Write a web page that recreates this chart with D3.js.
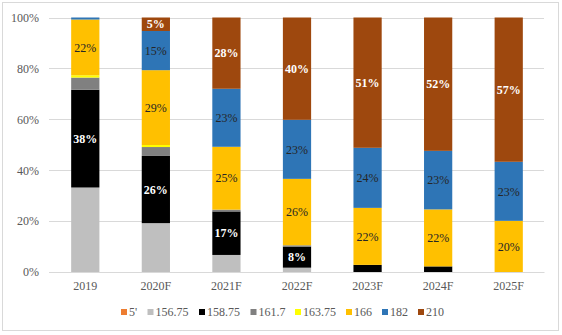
<!DOCTYPE html>
<html><head><meta charset="utf-8">
<script src="https://cdn.jsdelivr.net/npm/d3@7"></script>
<style>body{margin:0;background:#fff}svg{display:block}
svg text{font-family:"Liberation Serif","Times New Roman",serif;}</style>
</head><body>
<script>
const years = ["2019","2020F","2021F","2022F","2023F","2024F","2025F"];
const seriesNames = ["5'","156.75","158.75","161.7","163.75","166","182","210"];
const s5    = [0,0,0,0,0,0,0];
const s156  = [33.2,19.2,6.7,1.7,0,0,0];
const s158  = [38.4,26.4,17.1,8.3,2.8,2.2,0];
const s161  = [4.8,3.5,0.7,0.5,0,0,0];
const s163  = [0.9,0.8,0,0,0,0,0];
const s166  = [21.9,29.4,24.7,26.1,22.4,22.4,20.1];
const s182  = [0.8,15.4,22.8,23.2,23.6,23.0,23.2];
const s210  = [0,5.3,28.0,40.2,51.2,52.4,56.7];
const yTicks = [0,20,40,60,80,100];
const colors = ["#ED7D31","#BFBFBF","#000000","#808080","#FFFF00","#FFC000","#2E75B6","#9E480E"];
const labelled = {"158.75":"white","166":"dark","182":"dark","210":"white"};

const allSeries = [s5,s156,s158,s161,s163,s166,s182,s210];
const rows = years.map((y,i)=>{const r={year:y}; seriesNames.forEach((n,k)=>r[n]=allSeries[k][i]); return r;});

const W=562,H=335;
const svg=d3.select("body").append("svg").attr("width",W).attr("height",H);
svg.append("rect").attr("x",2.5).attr("y",2.5).attr("width",556).attr("height",328)
  .attr("fill","#fff").attr("stroke","#d9d9d9");

const x=d3.scaleBand().domain(years).range([50,544]).paddingInner(0.6).paddingOuter(0.3);
const y=d3.scaleLinear().domain([0,100]).range([272,17.5]);

const grid=svg.append("g");
grid.selectAll("line").data(yTicks).join("line")
  .attr("x1",49).attr("x2",544).attr("y1",d=>Math.round(y(d))+0.5).attr("y2",d=>Math.round(y(d))+0.5)
  .attr("stroke","#d9d9d9");

const yAxis=svg.append("g").attr("transform","translate(49,0)")
  .call(d3.axisLeft(y).tickValues(yTicks).tickFormat(d=>d+"%").tickSize(0).tickPadding(10));
yAxis.attr("font-family",null);
yAxis.select(".domain").remove();
yAxis.selectAll("text").attr("font-size",12).attr("fill","#595959");

const xAxis=svg.append("g").attr("transform","translate(0,272)")
  .call(d3.axisBottom(x).tickSize(0).tickPadding(9));
xAxis.attr("font-family",null);
xAxis.select(".domain").attr("stroke","#d9d9d9");
xAxis.selectAll("text").attr("font-size",12).attr("fill","#595959");

const stack=d3.stack().keys(seriesNames)(rows);
const layers=svg.append("g").selectAll("g").data(stack).join("g").attr("fill",(d,i)=>colors[i]);
layers.selectAll("rect").data(d=>d).join("rect")
  .attr("x",d=>x(d.data.year)).attr("width",x.bandwidth())
  .attr("y",d=>y(d[1])).attr("height",d=>y(d[0])-y(d[1]));

const lab=svg.append("g");
stack.forEach(layer=>{
  const style=labelled[layer.key];
  if(!style) return;
  layer.forEach(d=>{
    const v=d[1]-d[0];
    if(v<4.5) return;
    lab.append("text")
      .attr("x",x(d.data.year)+x.bandwidth()/2)
      .attr("y",(y(d[0])+y(d[1]))/2)
      .attr("dy","0.35em").attr("text-anchor","middle")
      .attr("font-size",12)
      .attr("font-weight",style==="white"?"bold":"normal")
      .attr("fill",style==="white"?"#fff":"#262626")
      .text(Math.round(v)+"%");
  });
});

const leg=svg.append("g").attr("transform","translate(0,312)");
const legX=[121,147.5,199,250.5,295,346,382,418];
seriesNames.forEach((n,i)=>{
  leg.append("rect").attr("x",legX[i]).attr("y",-3).attr("width",6).attr("height",6).attr("fill",colors[i]);
  leg.append("text").attr("x",legX[i]+8).attr("y",0).attr("dy","0.35em")
    .attr("font-size",12).attr("fill","#595959").text(n);
});
</script>
</body></html>
